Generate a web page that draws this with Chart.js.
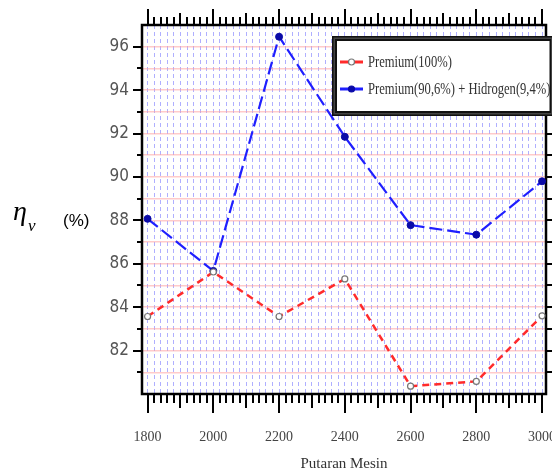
<!DOCTYPE html>
<html>
<head>
<meta charset="utf-8">
<style>
  html, body { margin: 0; padding: 0; background: #ffffff; }
  #wrap { position: relative; width: 552px; height: 476px; overflow: hidden; }
  canvas { display: block; }
</style>
<script src="https://cdn.jsdelivr.net/npm/chart.js@4/dist/chart.umd.min.js"></script>
</head>
<body>
<div id="wrap"><canvas id="c" width="552" height="476"></canvas></div>
<script>
// ---- data ----
const rpm = [1800, 2000, 2200, 2400, 2600, 2800, 3000];
const premium = [83.57, 85.62, 83.57, 85.30, 80.36, 80.58, 83.60];
const premiumHydrogen = [88.07, 85.67, 96.46, 91.85, 87.78, 87.34, 89.80];
const seriesNames = ['Premium(100%)', 'Premium(90,6%) + Hidrogen(9,4%)'];
const xTickLabels = [1800, 2000, 2200, 2400, 2600, 2800, 3000];
const yTickLabels = [82, 84, 86, 88, 90, 92, 94, 96];
const xTitle = 'Putaran Mesin';
const yTitleMain = 'η';
const yTitleSub = 'v';
const yTitleUnit = '(%)';

const X_MIN = 1783, X_MAX = 3012, Y_MIN = 80, Y_MAX = 97;
const X_GRID_STEP = 20;

const toPoints = (xs, ys) => xs.map((x, i) => ({ x: x, y: ys[i] }));

const framePlugin = {
  id: 'frameTicks',
  beforeDatasetsDraw(chart) {
    const { ctx, chartArea: a, scales } = chart;
    const xs = scales.x, ys = scales.y;
    ctx.save();
    ctx.strokeStyle = '#000';
    ctx.lineCap = 'butt';
    ctx.lineWidth = 2;
    ctx.beginPath();
    for (let v = 1800; v <= 3000; v += 20) {
      const px = Math.round(xs.getPixelForValue(v));
      const lb = v % 200 === 0 ? 19 : (v % 100 === 0 ? 14 : 9);
      const lt = v % 200 === 0 ? 16 : (v % 100 === 0 ? 12 : 8);
      ctx.moveTo(px, a.bottom); ctx.lineTo(px, a.bottom + lb);
      ctx.moveTo(px, a.top); ctx.lineTo(px, a.top - lt);
    }
    for (let v = 81; v <= 96; v += 1) {
      const py = Math.round(ys.getPixelForValue(v));
      const ll = v % 2 === 0 ? 9 : 5;
      ctx.moveTo(a.left, py); ctx.lineTo(a.left - ll, py);
      ctx.moveTo(a.right, py); ctx.lineTo(a.right + 7, py);
    }
    ctx.stroke();
    ctx.lineWidth = 2.5;
    ctx.strokeRect(a.left, a.top, a.right - a.left, a.bottom - a.top);
    ctx.restore();
  },
  afterDraw(chart) {
    const { ctx } = chart;
    ctx.save();
    ctx.fillStyle = '#000';
    ctx.textBaseline = 'alphabetic';
    ctx.font = 'italic 28px "Liberation Serif", "DejaVu Serif", serif';
    ctx.fillText(yTitleMain, 13, 220);
    ctx.font = 'italic 17px "Liberation Serif", "DejaVu Serif", serif';
    ctx.fillText(yTitleSub, 28, 231);
    ctx.font = '17px "Liberation Sans", Arial, sans-serif';
    ctx.textBaseline = 'middle';
    ctx.fillText(yTitleUnit, 63, 221);

    const bx = 332, by = 36, bw = 222, bh = 80;
    ctx.fillStyle = '#111';
    ctx.fillRect(bx, by, bw, bh);
    ctx.fillStyle = '#444';
    ctx.fillRect(bx + 1.5, by + 1.5, bw - 3, bh - 3);
    ctx.fillStyle = '#111';
    ctx.fillRect(bx + 3, by + 3, bw - 6, bh - 6);
    ctx.fillStyle = '#fff';
    ctx.fillRect(bx + 5, by + 5, bw - 9.5, bh - 10);

    const ds = chart.data.datasets;
    const rows = [62, 89];
    ds.forEach((d, i) => {
      const y = rows[i];
      ctx.save();
      ctx.strokeStyle = d.borderColor;
      ctx.lineWidth = 3;
      ctx.beginPath();
      ctx.moveTo(340, y); ctx.lineTo(363, y);
      ctx.stroke();
      ctx.beginPath();
      ctx.arc(351.5, y, 3, 0, Math.PI * 2);
      ctx.fillStyle = d.pointBackgroundColor;
      ctx.fill();
      ctx.lineWidth = 1.2;
      ctx.strokeStyle = d.pointBorderColor;
      ctx.stroke();
      ctx.restore();
      ctx.save();
      ctx.translate(368, y);
      ctx.scale(0.74, 1);
      ctx.fillStyle = '#333';
      ctx.textBaseline = 'middle';
      ctx.font = '17px "Liberation Serif", "DejaVu Serif", serif';
      ctx.fillText(d.label, 0, 1);
      ctx.restore();
    });
    ctx.restore();
  }
};

new Chart(document.getElementById('c'), {
  type: 'line',
  data: {
    datasets: [
      {
        label: seriesNames[0],
        data: toPoints(rpm, premium),
        borderColor: '#ff2b2b',
        borderWidth: 2.5,
        borderDash: [7, 5],
        pointRadius: 3,
        pointBackgroundColor: '#ffffff',
        pointBorderColor: '#777777',
        pointBorderWidth: 1.2,
        pointStyle: 'circle',
        tension: 0
      },
      {
        label: seriesNames[1],
        data: toPoints(rpm, premiumHydrogen),
        borderColor: '#1f1fff',
        borderWidth: 2.2,
        borderDash: [13, 5],
        pointRadius: 3.5,
        pointBackgroundColor: '#0a0aa8',
        pointBorderColor: '#0a0aa8',
        pointBorderWidth: 1,
        tension: 0
      }
    ]
  },
  options: {
    responsive: false,
    animation: false,
    devicePixelRatio: 1,
    layout: { padding: { top: 25, right: 6, left: 0, bottom: 0 } },
    plugins: { legend: { display: false }, tooltip: { enabled: false } },
    scales: {
      x: {
        type: 'linear',
        min: X_MIN, max: X_MAX,
        afterBuildTicks(s) {
          const t = [];
          for (let v = 1800; v <= 3000; v += X_GRID_STEP) t.push({ value: v });
          s.ticks = t;
        },
        afterFit(s) { s.height = 82; s.paddingLeft = 0; s.paddingRight = 0; },
        grid: { color: 'rgba(110,110,255,0.55)', lineWidth: 1, drawTicks: false },
        border: { display: false, dash: [4, 3] },
        ticks: {
          autoSkip: false,
          maxRotation: 0,
          padding: 35,
          color: '#444',
          font: { family: '"Liberation Serif", "DejaVu Serif", serif', size: 14 },
          callback: (v) => xTickLabels.includes(v) ? String(v) : ''
        },
        title: {
          display: true,
          text: xTitle,
          color: '#333',
          font: { family: '"Liberation Serif", "DejaVu Serif", serif', size: 15 },
          padding: { top: 0, bottom: 3 }
        }
      },
      y: {
        type: 'linear',
        min: Y_MIN, max: Y_MAX,
        afterFit(s) { s.width = 142; },
        grid: { color: 'rgba(255,160,160,0.55)', lineWidth: 1.5, drawTicks: false },
        border: { display: false },
        ticks: {
          stepSize: 1,
          autoSkip: false,
          padding: 13,
          color: '#555',
          font: { family: '"Liberation Sans Narrow", "DejaVu Sans Condensed", sans-serif', size: 17 },
          callback: (v) => yTickLabels.includes(v) ? String(v) : ''
        }
      }
    }
  },
  plugins: [framePlugin]
});
</script>
</body>
</html>
